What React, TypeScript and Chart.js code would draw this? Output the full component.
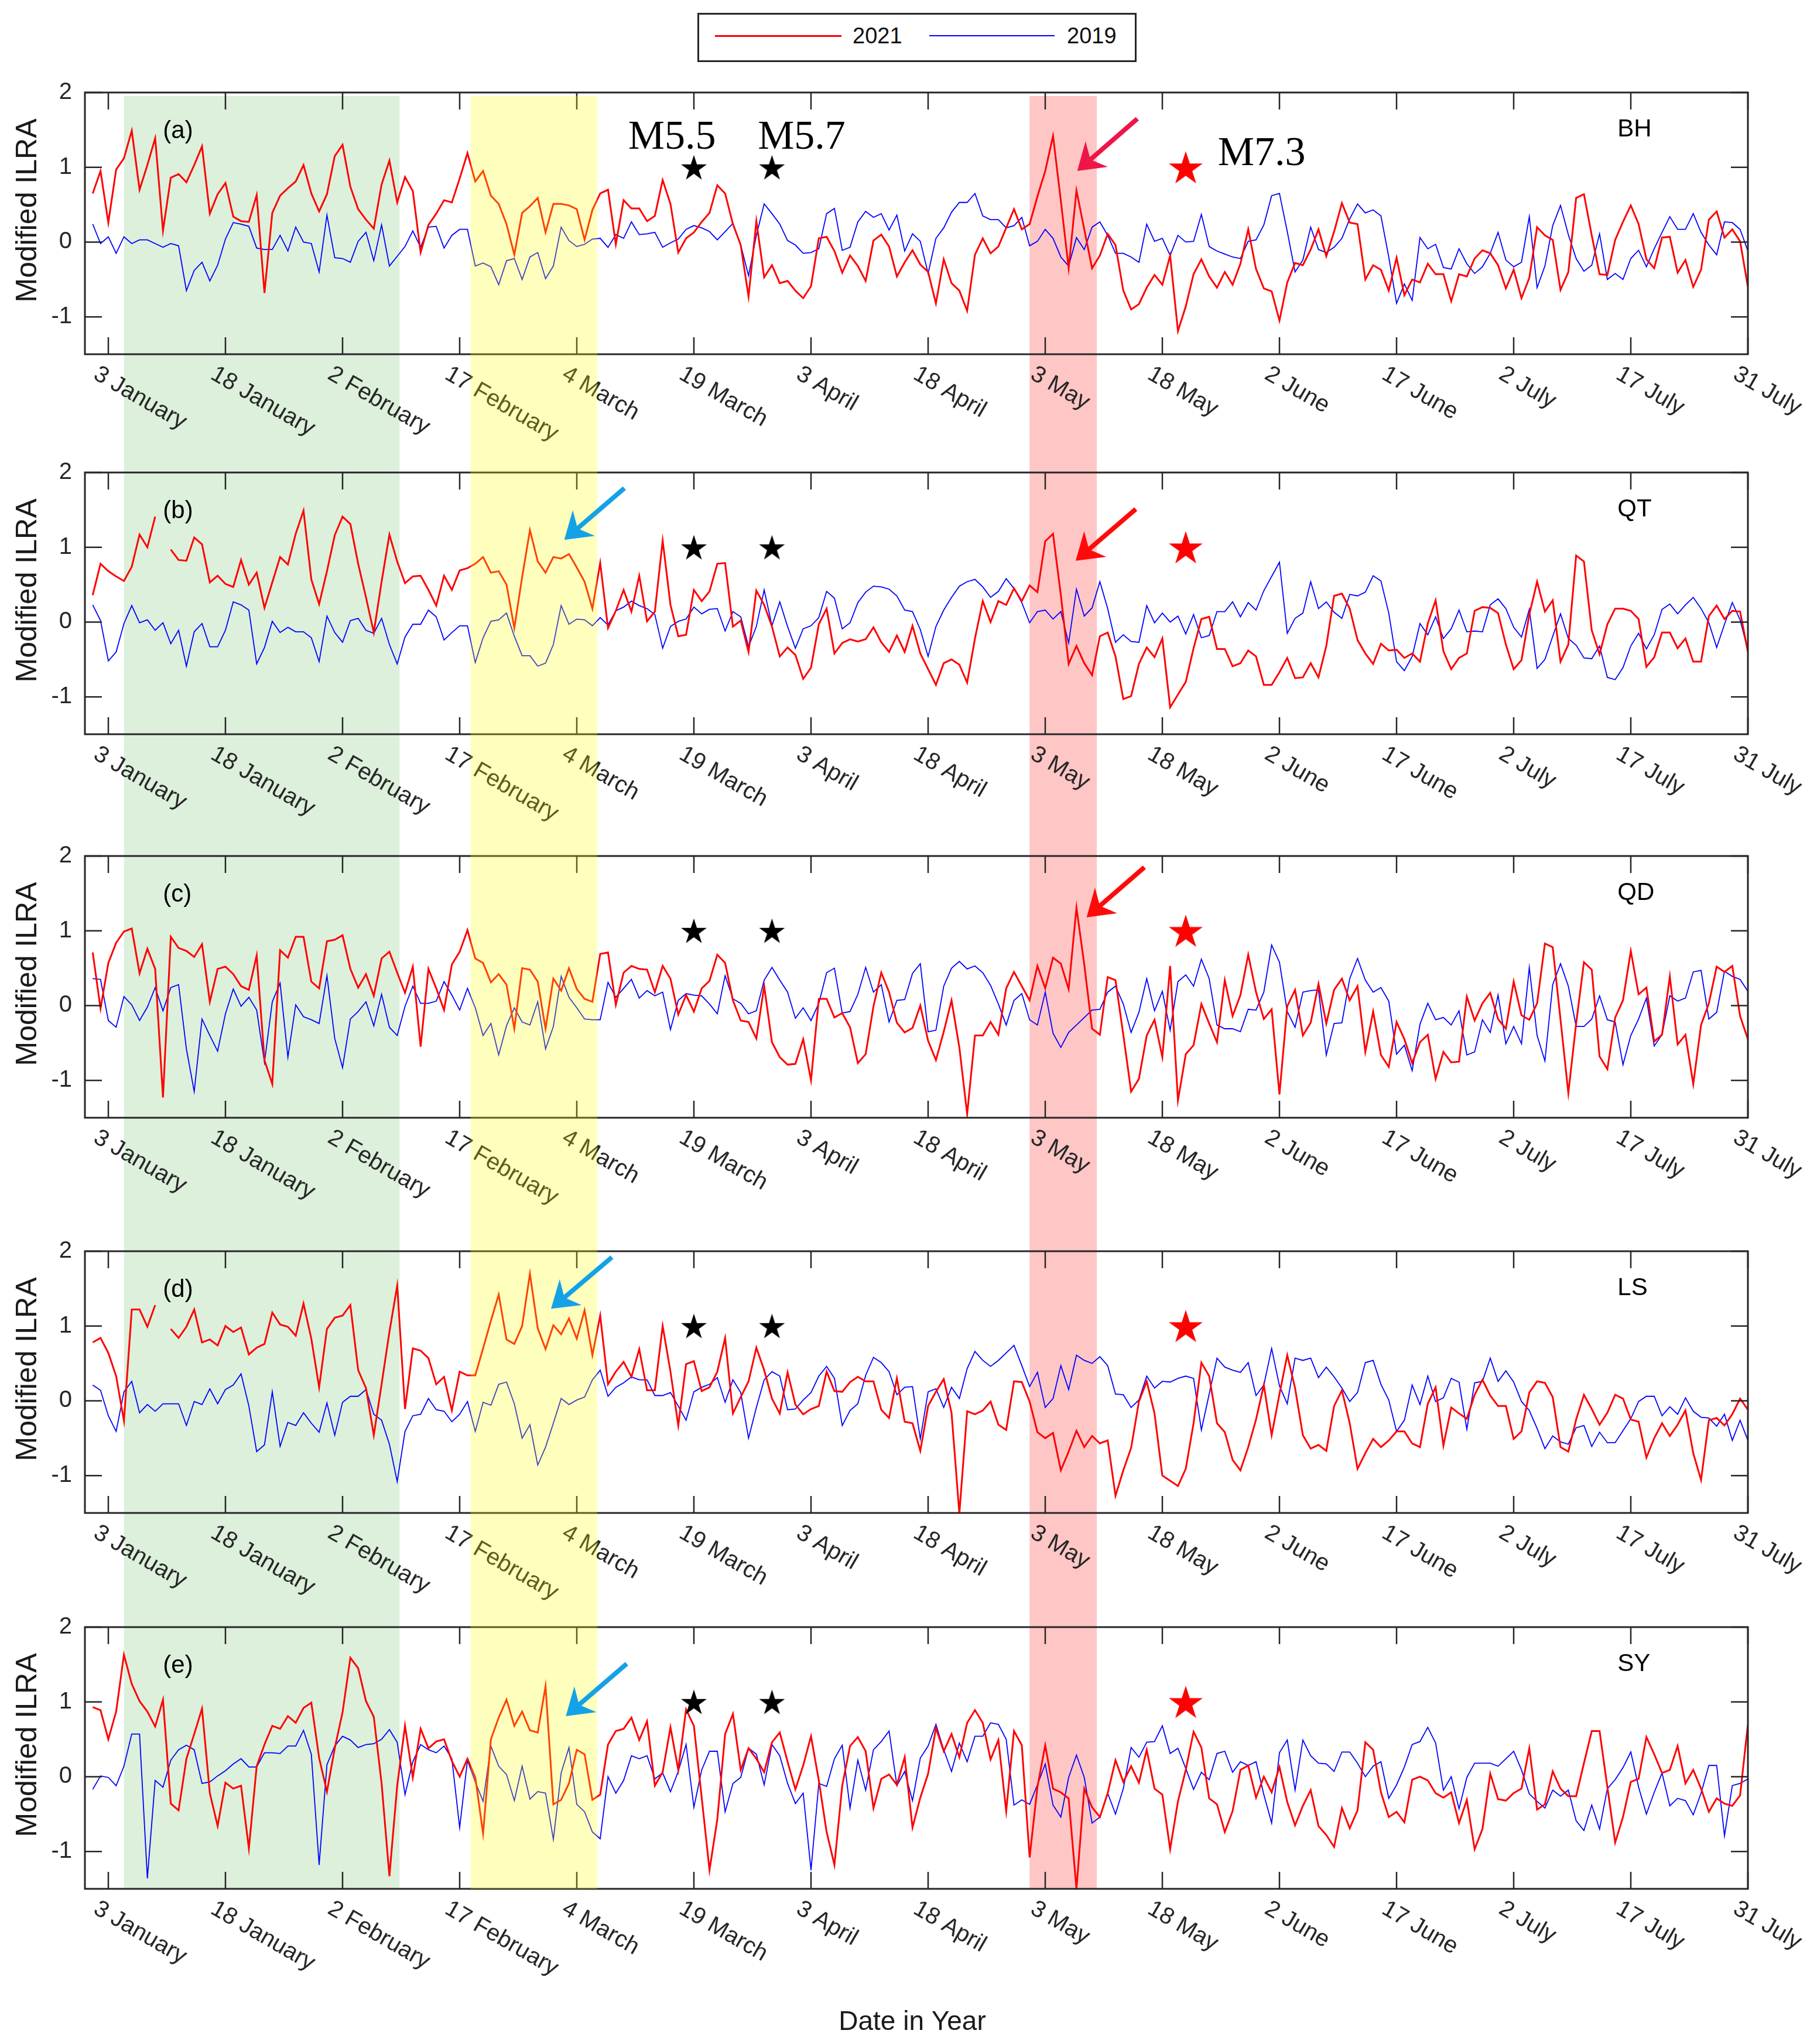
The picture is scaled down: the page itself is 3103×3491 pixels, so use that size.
import React, { useEffect, useRef } from "react";
import { Chart, registerables } from "chart.js";

Chart.register(...registerables);

// ---------- figure geometry ----------
const FIG_W = 3103;
const FIG_H = 3491;
const PLOT_RIGHT_PAD = 118;
const Y_AXIS_W = 145;
const PLOT_H = 447;
const PANEL_TOPS = [158, 807, 1462, 2137, 2779];
const CANVAS_TOPS = [0, 781, 1436, 2111, 2753, FIG_H];

// ---------- axes ----------
const X_MIN = 0;
const X_MAX = 213;
const Y_MIN = -1.5;
const Y_MAX = 2;
const Y_TICKS = [-1, 0, 1, 2];
const DAY_TICKS = [3, 18, 33, 48, 63, 78, 93, 108, 123, 138, 153, 168, 183, 198, 213];
const DAY_LABELS = [
  "3 January", "18 January", "2 February", "17 February", "4 March", "19 March", "3 April",
  "18 April", "3 May", "18 May", "2 June", "17 June", "2 July", "17 July", "31 July",
];
const Y_TITLE = "Modified ILRA";
const X_TITLE = "Date in Year";

// ---------- categories ----------
const STATIONS = ["BH", "QT", "QD", "LS", "SY"];
const PANEL_TAGS = ["(a)", "(b)", "(c)", "(d)", "(e)"];
const SERIES_NAMES = ["2021", "2019"];

// ---------- earthquakes ----------
const SMALL_QUAKE_DAYS = [78, 88];
const SMALL_QUAKE_LABELS = ["M5.5", "M5.7"];
const MAIN_QUAKE_DAY = [141];
const MAIN_QUAKE_LABEL = "M7.3";
const STAR_LEVEL = 1;

// ---------- series (daily values, day 1..213) ----------
const BH_2021 = [
  0.65, 0.95, 0.26, 0.97, 1.12, 1.49, 0.70, 1.03, 1.39, 0.15,
  0.86, 0.91, 0.80, 1.03, 1.28, 0.38, 0.64, 0.79, 0.34, 0.28,
  0.27, 0.63, -0.68, 0.39, 0.62, 0.72, 0.81, 1.03, 0.65, 0.41,
  0.64, 1.15, 1.30, 0.74, 0.44, 0.30, 0.18, 0.77, 1.09, 0.53,
  0.87, 0.68, -0.14, 0.23, 0.38, 0.56, 0.53, 0.85, 1.19, 0.81,
  0.95, 0.62, 0.51, 0.24, -0.17, 0.39, 0.48, 0.59, 0.13, 0.51,
  0.51, 0.49, 0.44, 0.03, 0.43, 0.65, 0.70, -0.03, 0.56, 0.45,
  0.45, 0.28, 0.35, 0.83, 0.51, -0.14, 0.05, 0.13, 0.27, 0.39,
  0.76, 0.65, 0.24, -0.04, -0.73, 0.28, -0.47, -0.31, -0.55, -0.52,
  -0.65, -0.75, -0.59, 0.05, 0.07, -0.12, -0.41, -0.18, -0.32, -0.52,
  0.02, 0.10, -0.06, -0.46, -0.27, -0.11, -0.30, -0.40, -0.82, -0.23,
  -0.55, -0.65, -0.92, -0.17, 0.05, -0.15, -0.06, 0.19, 0.44, 0.17,
  0.24, 0.61, 0.95, 1.42, 0.55, -0.35, 0.69, 0.17, -0.35, -0.18,
  0.11, -0.04, -0.65, -0.90, -0.83, -0.61, -0.44, -0.57, -0.18, -1.19,
  -0.86, -0.43, -0.23, -0.46, -0.61, -0.40, -0.57, -0.29, 0.17, -0.36,
  -0.62, -0.66, -1.05, -0.54, -0.28, -0.31, -0.10, 0.17, -0.19, 0.14,
  0.52, 0.26, 0.24, -0.50, -0.31, -0.37, -0.65, -0.21, -0.71, -0.50,
  -0.54, -0.29, -0.43, -0.43, -0.79, -0.43, -0.46, -0.22, -0.11, -0.15,
  -0.31, -0.62, -0.37, -0.75, -0.48, 0.20, 0.09, 0.03, -0.64, -0.40,
  0.59, 0.64, 0.09, -0.43, -0.44, 0.03, 0.27, 0.49, 0.24, -0.23,
  -0.35, 0.06, 0.07, -0.41, -0.24, -0.60, -0.37, 0.30, 0.41, 0.06,
  0.17, 0.01, -0.60,
];
const BH_2019 = [
  0.24, -0.02, 0.07, -0.15, 0.07, -0.02, 0.03, 0.03, -0.02, -0.07,
  -0.02, -0.05, -0.65, -0.38, -0.27, -0.52, -0.31, 0.04, 0.26, 0.24,
  0.21, -0.08, -0.10, -0.10, 0.09, -0.12, 0.20, 0.00, -0.02, -0.40,
  0.36, -0.21, -0.22, -0.27, 0.01, 0.13, -0.25, 0.23, -0.32, -0.19,
  -0.06, 0.15, -0.07, 0.20, 0.21, -0.08, 0.09, 0.17, 0.17, -0.32,
  -0.28, -0.33, -0.57, -0.25, -0.22, -0.50, -0.20, -0.14, -0.49, -0.32,
  0.20, 0.02, -0.06, -0.03, 0.04, 0.05, -0.07, 0.10, 0.05, 0.27,
  0.10, 0.11, 0.13, -0.07, -0.01, 0.04, 0.17, 0.22, 0.19, 0.14,
  0.03, 0.14, 0.25, -0.04, -0.45, 0.09, 0.51, 0.38, 0.24, 0.02,
  -0.04, -0.15, -0.14, -0.09, 0.38, 0.45, -0.11, -0.07, 0.27, 0.41,
  0.33, 0.38, 0.16, 0.36, -0.12, 0.11, 0.01, -0.42, 0.05, 0.19,
  0.40, 0.53, 0.53, 0.65, 0.35, 0.30, 0.30, 0.19, 0.22, 0.33,
  -0.05, 0.01, 0.17, 0.05, -0.20, -0.32, 0.06, -0.10, 0.20, 0.27,
  0.09, -0.15, -0.15, -0.20, -0.27, 0.24, 0.01, 0.05, -0.18, 0.09,
  0.00, 0.01, 0.37, -0.06, -0.12, -0.16, -0.20, -0.22, 0.01, 0.03,
  0.23, 0.62, 0.65, 0.14, -0.40, -0.24, 0.20, -0.10, -0.14, -0.07,
  0.05, 0.31, 0.51, 0.39, 0.43, 0.35, -0.20, -0.82, -0.56, -0.78,
  0.06, -0.09, -0.03, -0.34, -0.36, -0.09, -0.29, -0.42, -0.33, -0.15,
  0.13, -0.24, -0.33, -0.27, 0.34, -0.61, -0.32, 0.22, 0.49, 0.10,
  -0.22, -0.39, -0.31, 0.11, -0.50, -0.42, -0.50, -0.22, -0.11, -0.33,
  -0.09, 0.13, 0.34, 0.17, 0.17, 0.38, 0.13, -0.04, -0.17, 0.27,
  0.26, 0.17, -0.12,
];
const QT_2021 = [
  0.36, 0.78, 0.68, 0.61, 0.55, 0.74, 1.17, 1.00, 1.41, null,
  0.97, 0.83, 0.82, 1.13, 1.04, 0.53, 0.62, 0.51, 0.47, 0.83,
  0.50, 0.66, 0.19, 0.53, 0.87, 0.77, 1.18, 1.49, 0.57, 0.24,
  0.68, 1.16, 1.41, 1.31, 0.78, 0.33, -0.14, 0.54, 1.17, 0.81,
  0.52, 0.61, 0.62, 0.43, 0.22, 0.62, 0.43, 0.69, 0.72, 0.78,
  0.87, 0.66, 0.68, 0.50, -0.08, 0.60, 1.23, 0.81, 0.66, 0.87,
  0.85, 0.91, 0.73, 0.54, 0.18, 0.79, -0.08, 0.15, 0.43, 0.14,
  0.62, 0.01, 0.14, 1.09, 0.23, -0.19, -0.17, 0.43, 0.28, 0.41,
  0.78, 0.79, -0.06, 0.02, -0.40, 0.42, 0.23, -0.06, -0.46, -0.34,
  -0.44, -0.76, -0.61, -0.03, 0.18, -0.42, -0.28, -0.23, -0.26, -0.23,
  -0.07, -0.27, -0.40, -0.18, -0.40, -0.05, -0.42, -0.63, -0.84, -0.55,
  -0.50, -0.57, -0.81, -0.22, 0.28, 0.00, 0.28, 0.23, 0.45, 0.28,
  0.49, 0.40, 1.08, 1.18, 0.36, -0.56, -0.32, -0.55, -0.71, -0.19,
  -0.14, -0.46, -1.03, -0.99, -0.56, -0.34, -0.47, -0.22, -1.14, -0.97,
  -0.80, -0.35, 0.04, 0.07, -0.36, -0.36, -0.59, -0.55, -0.38, -0.46,
  -0.84, -0.84, -0.67, -0.48, -0.75, -0.74, -0.55, -0.74, -0.32, 0.35,
  0.38, 0.18, -0.24, -0.42, -0.56, -0.29, -0.38, -0.37, -0.48, -0.42,
  -0.53, -0.02, 0.29, -0.39, -0.63, -0.48, -0.42, 0.15, 0.20, 0.19,
  0.12, -0.30, -0.63, -0.51, 0.10, 0.54, 0.14, 0.29, -0.53, -0.30,
  0.89, 0.81, -0.11, -0.43, -0.03, 0.18, 0.18, 0.15, 0.04, -0.60,
  -0.47, -0.14, -0.14, -0.35, -0.22, -0.53, -0.53, 0.08, 0.22, 0.04,
  0.15, 0.14, -0.40,
];
const QT_2019 = [
  0.23, 0.02, -0.52, -0.40, -0.02, 0.22, -0.01, 0.03, -0.11, -0.01,
  -0.29, -0.11, -0.59, -0.13, -0.02, -0.33, -0.33, -0.11, 0.27, 0.23,
  0.16, -0.56, -0.34, 0.01, -0.14, -0.07, -0.13, -0.13, -0.21, -0.53,
  0.08, -0.14, -0.27, 0.02, 0.05, -0.11, -0.15, 0.05, -0.30, -0.56,
  -0.20, -0.03, -0.03, 0.16, 0.07, -0.24, -0.14, -0.05, -0.05, -0.54,
  -0.21, 0.01, 0.03, 0.12, -0.19, -0.45, -0.45, -0.59, -0.55, -0.30,
  0.22, -0.03, 0.04, 0.03, -0.05, 0.06, -0.04, 0.15, 0.20, 0.28,
  0.22, 0.18, 0.10, -0.35, -0.06, 0.01, 0.04, 0.20, 0.11, 0.17,
  0.18, -0.12, 0.14, 0.07, -0.33, -0.06, 0.43, -0.05, 0.27, -0.06,
  -0.35, -0.09, -0.05, 0.06, 0.41, 0.32, -0.09, -0.01, 0.26, 0.40,
  0.48, 0.47, 0.44, 0.35, 0.16, 0.14, -0.10, -0.46, -0.06, 0.16,
  0.33, 0.48, 0.54, 0.57, 0.47, 0.33, 0.41, 0.58, 0.45, 0.26,
  -0.01, 0.14, 0.16, 0.04, 0.14, -0.28, 0.44, 0.08, 0.19, 0.54,
  0.18, -0.27, -0.17, -0.26, -0.27, 0.22, -0.01, 0.12, 0.00, 0.08,
  -0.16, 0.10, -0.21, -0.18, 0.14, 0.14, 0.27, 0.07, 0.26, 0.16,
  0.42, 0.61, 0.80, -0.15, 0.05, 0.12, 0.54, 0.18, 0.27, 0.13,
  0.05, 0.37, 0.35, 0.40, 0.62, 0.55, 0.12, -0.53, -0.65, -0.46,
  -0.02, -0.17, 0.07, -0.22, -0.09, 0.16, -0.13, -0.12, -0.13, 0.23,
  0.31, 0.18, -0.07, -0.20, 0.17, -0.62, -0.50, -0.19, 0.11, -0.22,
  -0.31, -0.48, -0.49, -0.32, -0.74, -0.77, -0.61, -0.32, -0.15, -0.36,
  -0.17, 0.17, 0.24, 0.11, 0.23, 0.33, 0.18, -0.01, -0.34, -0.03,
  0.26, 0.03, -0.38,
];
const QD_2021 = [
  0.71, -0.04, 0.57, 0.84, 0.99, 1.03, 0.43, 0.76, 0.49, -1.23,
  0.92, 0.77, 0.73, 0.65, 0.82, 0.05, 0.49, 0.52, 0.42, 0.26,
  0.21, 0.67, -0.73, -1.05, 0.74, 0.64, 0.92, 0.92, 0.32, 0.23,
  0.86, 0.88, 0.94, 0.49, 0.24, 0.42, 0.13, 0.63, 0.72, 0.44,
  0.17, 0.52, -0.55, 0.49, 0.23, -0.06, 0.55, 0.72, 1.01, 0.63,
  0.57, 0.31, 0.42, 0.28, -0.31, 0.50, 0.48, 0.32, -0.31, 0.36,
  0.20, 0.50, 0.22, 0.09, 0.05, 0.69, 0.71, 0.01, 0.44, 0.53,
  0.49, 0.48, 0.18, 0.53, 0.36, -0.12, 0.14, -0.08, 0.23, 0.33,
  0.68, 0.57, 0.07, -0.20, -0.22, -0.44, 0.26, -0.49, -0.69, -0.79,
  -0.78, -0.45, -1.00, 0.09, 0.09, -0.16, -0.10, -0.29, -0.77, -0.65,
  -0.01, 0.44, 0.18, -0.23, -0.36, -0.30, 0.00, -0.47, -0.73, -0.35,
  0.07, -0.56, -1.45, -0.40, -0.40, -0.22, -0.39, 0.23, 0.45, 0.26,
  0.07, 0.53, 0.23, 0.64, 0.56, 0.22, 1.31, 0.55, -0.31, -0.39,
  0.38, 0.34, -0.39, -1.15, -0.98, -0.40, -0.19, -0.69, 0.53, -1.27,
  -0.65, -0.53, 0.02, -0.24, -0.49, 0.34, -0.14, 0.14, 0.68, 0.18,
  -0.18, -0.05, -1.19, -0.01, 0.21, -0.40, -0.23, 0.29, -0.24, 0.21,
  0.36, 0.07, 0.26, -0.62, -0.08, -0.66, -0.82, -0.22, -0.45, -0.77,
  -0.49, -0.39, -0.98, -0.62, -0.76, -0.75, 0.12, -0.20, 0.03, 0.17,
  -0.18, -0.31, 0.32, -0.13, -0.19, 0.03, 0.83, 0.78, -0.19, -1.17,
  -0.24, 0.58, 0.48, -0.68, -0.85, -0.16, 0.07, 0.73, 0.15, 0.24,
  -0.48, -0.39, 0.39, -0.52, -0.39, -1.05, -0.26, 0.03, 0.52, 0.45,
  0.53, -0.14, -0.45,
];
const QD_2019 = [
  0.36, 0.35, -0.20, -0.29, 0.12, 0.01, -0.20, -0.02, 0.24, -0.07,
  0.24, 0.28, -0.58, -1.15, -0.18, -0.40, -0.61, -0.11, 0.22, -0.01,
  0.11, -0.06, -0.76, 0.05, 0.30, -0.69, 0.01, -0.15, -0.19, -0.24,
  0.40, -0.44, -0.83, -0.18, -0.08, 0.05, -0.27, 0.15, -0.29, -0.40,
  -0.01, 0.26, 0.03, 0.03, 0.06, 0.32, 0.14, -0.06, 0.23, -0.03,
  -0.40, -0.24, -0.66, -0.27, -0.03, -0.22, -0.26, 0.05, -0.58, -0.28,
  0.39, 0.11, -0.03, -0.18, -0.19, -0.19, 0.31, 0.11, 0.23, 0.35,
  0.10, 0.20, 0.13, 0.18, -0.32, 0.07, 0.16, 0.14, 0.13, 0.02,
  -0.11, 0.40, 0.09, 0.03, -0.11, -0.07, 0.34, 0.51, 0.34, 0.18,
  -0.17, -0.03, -0.20, 0.03, 0.44, 0.50, -0.10, -0.08, 0.15, 0.51,
  0.18, 0.28, -0.22, 0.07, 0.08, 0.43, 0.56, -0.35, -0.33, 0.26,
  0.50, 0.59, 0.49, 0.53, 0.44, 0.27, 0.02, -0.26, 0.07, 0.16,
  -0.19, -0.26, 0.18, -0.37, -0.56, -0.36, -0.26, -0.16, -0.06, -0.05,
  0.18, 0.26, 0.02, -0.36, -0.09, 0.36, -0.07, 0.19, -0.33, 0.32,
  0.41, 0.26, 0.62, 0.36, -0.26, -0.31, -0.31, -0.35, -0.05, -0.06,
  0.18, 0.81, 0.58, -0.08, -0.29, 0.18, 0.20, 0.21, -0.66, -0.24,
  -0.23, 0.36, 0.63, 0.34, 0.18, 0.24, 0.06, -0.65, -0.53, -0.87,
  -0.25, 0.03, -0.19, -0.16, -0.26, -0.07, -0.66, -0.62, -0.19, -0.36,
  0.14, -0.51, -0.28, -0.51, 0.51, -0.40, -0.74, 0.28, 0.56, 0.26,
  -0.28, -0.28, -0.18, 0.13, -0.19, -0.22, -0.79, -0.40, -0.18, 0.10,
  -0.54, -0.39, 0.13, 0.06, 0.10, 0.45, 0.47, -0.18, -0.09, 0.46,
  0.39, 0.35, 0.19,
];
const LS_2021 = [
  0.78, 0.84, 0.64, 0.33, -0.27, 1.22, 1.22, 0.99, 1.28, null,
  0.96, 0.84, 0.99, 1.22, 0.78, 0.82, 0.74, 1.00, 0.92, 0.98,
  0.62, 0.71, 0.76, 1.18, 1.02, 0.99, 0.87, 1.30, 0.83, 0.18,
  0.96, 1.11, 1.14, 1.28, 0.41, 0.17, -0.46, 0.22, 0.92, 1.54,
  -0.11, 0.70, 0.67, 0.57, 0.22, 0.32, -0.13, 0.39, 0.34, 0.34,
  0.70, 1.07, 1.42, 0.82, 0.76, 1.00, 1.70, 0.97, 0.69, 1.01,
  0.89, 1.10, 0.83, 1.21, 0.61, 1.14, 0.22, 0.39, 0.52, 0.32,
  0.69, 0.14, 0.14, 1.00, 0.39, -0.33, 0.49, 0.53, 0.13, 0.18,
  0.39, 0.84, -0.17, 0.05, 0.26, 0.71, 0.41, 0.03, -0.17, 0.38,
  -0.05, -0.18, -0.11, -0.07, 0.39, 0.13, 0.12, 0.25, 0.32, 0.26,
  0.26, -0.12, -0.23, 0.30, -0.28, -0.30, -0.67, -0.07, 0.12, 0.29,
  -0.16, -1.51, -0.14, -0.18, -0.13, -0.01, -0.32, -0.39, 0.26, 0.25,
  -0.01, -0.42, -0.50, -0.43, -0.93, -0.68, -0.40, -0.62, -0.47, -0.57,
  -0.53, -1.27, -0.93, -0.63, -0.01, 0.26, -0.17, -1.00, -1.07, -1.14,
  -0.91, -0.30, 0.51, 0.33, -0.30, -0.42, -0.79, -0.93, -0.62, -0.25,
  0.21, -0.46, 0.09, 0.61, 0.17, -0.46, -0.64, -0.59, -0.67, -0.07,
  0.14, -0.30, -0.91, -0.70, -0.51, -0.62, -0.53, -0.41, -0.41, -0.57,
  -0.62, -0.04, 0.18, -0.60, -0.09, -0.17, -0.24, 0.08, 0.28, 0.07,
  -0.07, -0.07, -0.51, -0.41, 0.11, 0.26, 0.24, 0.05, -0.62, -0.68,
  -0.25, 0.08, -0.11, -0.32, -0.16, 0.08, 0.03, -0.25, -0.28, -0.76,
  -0.50, -0.30, -0.47, -0.32, -0.13, -0.70, -1.06, -0.26, -0.23, -0.33,
  -0.18, 0.03, -0.12,
];
const LS_2019 = [
  0.21, 0.14, -0.20, -0.41, 0.12, 0.26, -0.16, -0.05, -0.14, -0.04,
  -0.04, -0.04, -0.33, -0.01, -0.05, 0.16, -0.04, 0.15, 0.21, 0.36,
  -0.07, -0.68, -0.59, 0.12, -0.61, -0.29, -0.33, -0.16, -0.30, -0.42,
  -0.03, -0.46, -0.02, 0.06, 0.06, 0.15, -0.18, -0.26, -0.58, -1.08,
  -0.41, -0.20, -0.18, 0.03, -0.12, -0.14, -0.28, -0.18, -0.01, -0.41,
  -0.02, -0.06, 0.22, 0.25, -0.04, -0.50, -0.32, -0.86, -0.62, -0.30,
  0.03, -0.05, 0.01, 0.05, 0.28, 0.41, 0.06, 0.18, 0.24, 0.32,
  0.28, 0.28, 0.07, 0.07, 0.11, -0.07, -0.26, 0.12, 0.18, 0.22,
  0.31, -0.02, 0.28, 0.11, -0.50, -0.09, 0.28, 0.39, 0.33, -0.12,
  -0.11, 0.01, 0.11, 0.33, 0.46, 0.30, -0.33, -0.13, -0.04, 0.34,
  0.58, 0.51, 0.39, 0.08, 0.18, 0.19, -0.51, 0.12, 0.16, -0.09,
  0.18, 0.03, 0.43, 0.66, 0.54, 0.46, 0.54, 0.64, 0.74, 0.47,
  0.19, 0.38, -0.09, 0.03, 0.47, 0.15, 0.61, 0.54, 0.50, 0.59,
  0.47, 0.09, 0.08, -0.09, 0.01, 0.33, 0.17, 0.26, 0.25, 0.30,
  0.33, 0.30, -0.39, 0.09, 0.57, 0.45, 0.41, 0.38, 0.51, 0.07,
  0.21, 0.70, 0.20, -0.04, 0.57, 0.54, 0.57, 0.31, 0.45, 0.32,
  0.17, -0.01, 0.11, 0.51, 0.54, 0.22, 0.01, -0.41, -0.26, 0.21,
  -0.05, 0.33, -0.01, 0.04, 0.30, 0.25, -0.38, 0.24, 0.26, 0.57,
  0.26, 0.40, 0.25, -0.01, -0.13, -0.37, -0.64, -0.47, -0.55, -0.58,
  -0.36, -0.33, -0.61, -0.42, -0.56, -0.56, -0.40, -0.24, -0.01, 0.06,
  0.06, -0.20, -0.08, -0.18, 0.04, -0.14, -0.22, -0.23, -0.34, -0.18,
  -0.53, -0.26, -0.53,
];
const SY_2021 = [
  0.93, 0.89, 0.50, 0.87, 1.63, 1.24, 1.01, 0.87, 0.67, 1.03,
  -0.36, -0.45, 0.24, 0.57, 0.91, -0.22, -0.66, -0.08, -0.16, -0.12,
  -0.96, 0.14, 0.43, 0.68, 0.64, 0.81, 0.72, 0.92, 0.99, 0.25,
  -0.20, 0.38, 0.86, 1.59, 1.45, 1.01, 0.80, -0.09, -1.33, -0.12,
  0.68, -0.01, 0.64, 0.38, 0.47, 0.50, 0.21, 0.00, 0.24, -0.01,
  -0.76, 0.50, 0.79, 1.03, 0.68, 0.87, 0.62, 0.59, 1.21, -0.37,
  -0.31, -0.09, 0.36, 0.30, -0.31, -0.24, 0.43, 0.61, 0.64, 0.79,
  0.49, 0.74, -0.12, 0.06, 0.66, 0.09, 0.90, 0.68, -0.28, -1.25,
  -0.57, 0.57, 0.84, 0.09, 0.38, 0.24, 0.06, 0.46, 0.59, 0.20,
  -0.17, 0.15, 0.54, -0.05, -0.74, -1.18, -0.12, 0.41, 0.53, 0.34,
  -0.42, -0.03, 0.03, -0.11, 0.26, -0.68, -0.28, 0.04, 0.65, 0.34,
  0.57, 0.26, 0.72, 0.89, 0.72, 0.23, 0.49, -0.46, 0.61, 0.42,
  -1.08, -0.14, 0.42, -0.16, -0.21, -0.29, -1.50, -0.16, -0.41, -0.54,
  -0.22, 0.22, -0.07, 0.14, -0.08, 0.36, -0.16, -0.24, -0.97, -0.33,
  0.09, 0.60, 0.39, -0.29, -0.37, -0.74, -0.46, 0.09, 0.15, -0.28,
  0.00, -0.21, 0.13, -0.34, -0.65, -0.39, -0.18, -0.66, -0.78, -0.94,
  -0.42, -0.69, -0.45, 0.46, 0.36, -0.21, -0.54, -0.47, -0.61, -0.04,
  0.00, -0.05, -0.22, -0.28, -0.21, -0.62, -0.31, -0.97, -0.70, 0.04,
  -0.30, -0.32, -0.22, -0.16, 0.38, -0.44, -0.37, 0.07, -0.16, -0.26,
  -0.26, 0.18, 0.61, 0.61, -0.14, -0.88, -0.54, -0.07, -0.03, 0.53,
  0.30, 0.05, 0.09, 0.41, -0.09, 0.09, -0.16, -0.47, -0.29, -0.36,
  -0.39, -0.25, 0.70,
];
const SY_2019 = [
  -0.17, 0.01, -0.01, -0.12, 0.14, 0.57, 0.57, -1.36, -0.05, -0.14,
  0.22, 0.36, 0.42, 0.36, -0.09, -0.07, 0.01, 0.08, 0.17, 0.24,
  0.13, 0.13, 0.32, 0.32, 0.31, 0.41, 0.41, 0.62, 0.30, -1.18,
  0.16, 0.41, 0.54, 0.49, 0.39, 0.43, 0.44, 0.50, 0.63, 0.46,
  -0.24, 0.20, 0.43, 0.36, 0.32, 0.41, 0.24, -0.68, 0.22, -0.07,
  -0.33, 0.41, 0.14, 0.03, -0.32, 0.14, -0.30, -0.20, -0.22, -0.84,
  0.05, 0.39, -0.37, -0.47, -0.74, -0.83, 0.00, -0.22, -0.05, 0.28,
  0.24, 0.28, -0.03, 0.05, -0.20, 0.07, 0.43, -0.41, 0.09, 0.34,
  0.34, -0.47, -0.09, -0.01, 0.38, 0.30, -0.11, 0.43, 0.28, -0.09,
  -0.36, -0.22, -1.25, -0.09, -0.13, 0.24, 0.42, -0.42, 0.22, -0.18,
  0.36, 0.47, 0.61, -0.12, 0.07, -0.32, 0.25, 0.41, 0.70, 0.36,
  0.07, 0.45, 0.20, 0.54, 0.54, 0.72, 0.70, 0.50, -0.38, -0.31,
  -0.37, -0.11, 0.17, -0.38, -0.54, -0.01, 0.29, -0.01, -0.62, -0.54,
  -0.22, -0.50, -0.16, 0.39, 0.26, 0.46, 0.47, 0.68, 0.31, 0.38,
  0.11, -0.17, 0.06, -0.04, 0.31, 0.34, 0.06, 0.20, 0.15, 0.20,
  -0.24, -0.62, 0.32, 0.49, -0.18, 0.49, 0.28, 0.18, 0.17, 0.07,
  0.33, 0.33, 0.18, 0.00, 0.14, 0.20, -0.29, -0.11, 0.13, 0.43,
  0.47, 0.66, 0.45, -0.18, 0.00, -0.43, -0.01, 0.18, 0.18, 0.18,
  0.14, 0.24, 0.34, 0.09, -0.23, -0.33, -0.42, -0.18, -0.26, -0.18,
  -0.59, -0.72, -0.38, -0.70, -0.16, -0.04, 0.12, 0.33, -0.14, -0.50,
  -0.21, 0.05, -0.39, -0.29, -0.32, -0.51, -0.22, 0.15, 0.15, -0.79,
  -0.12, -0.09, -0.03,
];

const SERIES_2021 = [BH_2021, QT_2021, QD_2021, LS_2021, SY_2021];
const SERIES_2019 = [BH_2019, QT_2019, QD_2019, LS_2019, SY_2019];

// ---------- shaded periods (day ranges) ----------
const BAND_GREEN = [5, 40.3];
const BAND_RED = [121, 129.6];
const BAND_YELLOW = [49.4, 65.6];

// ---------- arrows [fromDay, fromVal, toDay, toVal] ----------
const ARROWS_RED = [
  [[134.8, 1.65, 127.1, 0.95]],
  [[134.6, 1.51, 126.9, 0.82]],
  [[135.7, 1.85, 128.3, 1.18]],
  [],
  [],
];
const ARROWS_BLUE = [
  [],
  [[69.1, 1.79, 61.4, 1.10]],
  [],
  [[67.5, 1.92, 59.7, 1.23]],
  [[69.4, 1.51, 61.6, 0.81]],
];

// ---------- styles ----------
const C_RED = "#ff0000";
const C_BLUE = "#0000ff";
const C_AXIS = "#262626";
const SANS = '"Liberation Sans", Arial, Helvetica, sans-serif';
const SERIF = '"Liberation Serif", "Times New Roman", serif';

function makeStar(width: number, color: string): HTMLCanvasElement {
  const c = document.createElement("canvas");
  c.width = width + 4;
  c.height = width + 4;
  const ctx = c.getContext("2d")!;
  const R = width / (2 * Math.sin((72 * Math.PI) / 180));
  const cx = c.width / 2;
  const cy = c.height / 2 + 0.0955 * R;
  ctx.fillStyle = color;
  ctx.beginPath();
  for (let k = 0; k < 10; k++) {
    const ang = (-90 + k * 36) * (Math.PI / 180);
    const r = k % 2 === 0 ? R : R * 0.382;
    const px = cx + r * Math.cos(ang);
    const py = cy + r * Math.sin(ang);
    if (k === 0) ctx.moveTo(px, py);
    else ctx.lineTo(px, py);
  }
  ctx.closePath();
  ctx.fill();
  return c;
}

function drawArrow(ctx: CanvasRenderingContext2D, x0: number, y0: number, x1: number, y1: number, color: string) {
  const dx = x1 - x0;
  const dy = y1 - y0;
  const L = Math.hypot(dx, dy);
  const ux = dx / L;
  const uy = dy / L;
  const px = -uy;
  const py = ux;
  const headLen = 44;
  const headW = 29;
  ctx.save();
  ctx.strokeStyle = color;
  ctx.fillStyle = color;
  ctx.lineWidth = 8;
  ctx.lineCap = "butt";
  ctx.beginPath();
  ctx.moveTo(x0, y0);
  ctx.lineTo(x1 - ux * headLen * 0.6, y1 - uy * headLen * 0.6);
  ctx.stroke();
  ctx.beginPath();
  ctx.moveTo(x1, y1);
  ctx.lineTo(x1 - ux * headLen + px * headW, y1 - uy * headLen + py * headW);
  ctx.lineTo(x1 - ux * headLen * 0.68, y1 - uy * headLen * 0.68);
  ctx.lineTo(x1 - ux * headLen - px * headW, y1 - uy * headLen - py * headW);
  ctx.closePath();
  ctx.fill();
  ctx.restore();
}

function panelPlugin(i: number) {
  return {
    id: "panelDeco" + i,
    beforeDatasetsDraw(chart: any) {
      const { ctx, chartArea: a, scales } = chart;
      const x = scales.x;
      const top = i === 0 ? a.top + 6 : 0;
      const bottom = i === 4 ? a.bottom : chart.height;
      ctx.save();
      const bands: [number[], string][] = [
        [BAND_GREEN, "#dcf0dc"],
        [BAND_RED, "#ffc6c6"],
      ];
      for (const [b, col] of bands) {
        const x0 = x.getPixelForValue(b[0]);
        const x1 = x.getPixelForValue(b[1]);
        ctx.fillStyle = col;
        ctx.fillRect(x0, top, x1 - x0, bottom - top);
      }
      ctx.restore();
    },
    afterDatasetsDraw(chart: any) {
      const { ctx, chartArea: a, scales } = chart;
      const x = scales.x;
      const y = scales.y;
      ctx.save();
      // frame
      ctx.strokeStyle = C_AXIS;
      ctx.lineWidth = 3;
      ctx.strokeRect(a.left, a.top, a.right - a.left, a.bottom - a.top);
      // inward ticks
      ctx.lineWidth = 2.5;
      ctx.beginPath();
      for (const d of DAY_TICKS) {
        const px = x.getPixelForValue(d);
        ctx.moveTo(px, a.bottom);
        ctx.lineTo(px, a.bottom - 29);
        ctx.moveTo(px, a.top);
        ctx.lineTo(px, a.top + 29);
      }
      for (const v of Y_TICKS) {
        const py = y.getPixelForValue(v);
        ctx.moveTo(a.left, py);
        ctx.lineTo(a.left + 29, py);
        ctx.moveTo(a.right, py);
        ctx.lineTo(a.right - 29, py);
      }
      ctx.stroke();

      // panel tag and station
      ctx.fillStyle = "#000";
      ctx.font = `42px ${SANS}`;
      ctx.textBaseline = "middle";
      ctx.textAlign = "left";
      ctx.fillText(PANEL_TAGS[i], x.getPixelForValue(10), y.getPixelForValue(1.48));
      ctx.fillText(STATIONS[i], x.getPixelForValue(196.3), y.getPixelForValue(1.5));

      // magnitude labels
      if (i === 0) {
        ctx.font = `70px ${SERIF}`;
        ctx.textBaseline = "alphabetic";
        ctx.textAlign = "center";
        ctx.fillText(SMALL_QUAKE_LABELS[0], x.getPixelForValue(75.2), y.getPixelForValue(1.25));
        ctx.fillText(SMALL_QUAKE_LABELS[1], x.getPixelForValue(91.8), y.getPixelForValue(1.25));
        ctx.textAlign = "left";
        ctx.fillText(MAIN_QUAKE_LABEL, x.getPixelForValue(145.1), y.getPixelForValue(1.03));
      }
      ctx.restore();
    },
    afterDraw(chart: any) {
      const { ctx, chartArea: a, scales } = chart;
      const x = scales.x;
      const y = scales.y;
      ctx.save();
      // rotated date labels
      ctx.fillStyle = C_AXIS;
      ctx.font = `40px ${SANS}`;
      ctx.textAlign = "left";
      ctx.textBaseline = "top";
      DAY_TICKS.forEach((d, k) => {
        const px = x.getPixelForValue(d);
        ctx.save();
        ctx.translate(px - 12, a.bottom + 14);
        ctx.rotate((30 * Math.PI) / 180);
        ctx.fillText(DAY_LABELS[k], 0, 0);
        ctx.restore();
      });
      // y title
      ctx.save();
      ctx.fillStyle = "#1a1a1a";
      ctx.font = `50px ${SANS}`;
      ctx.textAlign = "center";
      ctx.textBaseline = "alphabetic";
      ctx.translate(62, (a.top + a.bottom) / 2 - 22);
      ctx.rotate(-Math.PI / 2);
      ctx.fillText(Y_TITLE, 0, 0);
      ctx.restore();
      // x title on last panel
      if (i === 4) {
        ctx.fillStyle = "#1a1a1a";
        ctx.font = `46px ${SANS}`;
        ctx.textAlign = "center";
        ctx.textBaseline = "middle";
        ctx.fillText(X_TITLE, (a.left + a.right) / 2 - 7, a.bottom + 228);
      }
      // translucent yellow period on top
      const top = i === 0 ? a.top + 6 : 0;
      const bottom = i === 4 ? a.bottom : chart.height;
      const x0 = x.getPixelForValue(BAND_YELLOW[0]);
      const x1 = x.getPixelForValue(BAND_YELLOW[1]);
      ctx.fillStyle = "rgba(255,255,0,0.26)";
      ctx.fillRect(x0, top, x1 - x0, bottom - top);

      // arrows (in front of everything)
      for (const ar of ARROWS_RED[i]) {
        drawArrow(ctx, x.getPixelForValue(ar[0]), y.getPixelForValue(ar[1]), x.getPixelForValue(ar[2]), y.getPixelForValue(ar[3]), i === 0 ? "#ee1649" : "#ff0a0a");
      }
      for (const ar of ARROWS_BLUE[i]) {
        drawArrow(ctx, x.getPixelForValue(ar[0]), y.getPixelForValue(ar[1]), x.getPixelForValue(ar[2]), y.getPixelForValue(ar[3]), "#14a2e6");
      }
      ctx.restore();
    },
  };
}

const toPoints = (vals: (number | null)[]) => vals.map((v, k) => ({ x: k + 1, y: v }));

export default function App() {
  const refs = useRef<(HTMLCanvasElement | null)[]>([]);

  useEffect(() => {
    document.body.style.margin = "0";
    const starBlack = makeStar(44, "#000000");
    const starRed = makeStar(58, "#ff0000");
    const charts: Chart[] = [];
    for (let i = 0; i < 5; i++) {
      const canvas = refs.current[i];
      if (!canvas) continue;
      const cTop = CANVAS_TOPS[i];
      const cH = CANVAS_TOPS[i + 1] - cTop;
      const padTop = PANEL_TOPS[i] - cTop;
      const padBottom = cH - padTop - PLOT_H;
      const cfg: any = {
        type: "line",
        data: {
          datasets: [
            {
              label: "quakes",
              data: SMALL_QUAKE_DAYS.map((d) => ({ x: d, y: STAR_LEVEL })),
              showLine: false,
              pointStyle: starBlack,
              pointRadius: 10,
              borderColor: "#000",
              backgroundColor: "#000",
            },
            {
              label: "main quake",
              data: MAIN_QUAKE_DAY.map((d) => ({ x: d, y: STAR_LEVEL })),
              showLine: false,
              pointStyle: starRed,
              pointRadius: 10,
              borderColor: C_RED,
              backgroundColor: C_RED,
            },
            {
              label: SERIES_NAMES[0],
              data: toPoints(SERIES_2021[i]),
              borderColor: C_RED,
              backgroundColor: C_RED,
              borderWidth: 3,
              pointRadius: 0,
              tension: 0,
              spanGaps: false,
            },
            {
              label: SERIES_NAMES[1],
              data: toPoints(SERIES_2019[i]),
              borderColor: C_BLUE,
              backgroundColor: C_BLUE,
              borderWidth: 1.8,
              pointRadius: 0,
              tension: 0,
              spanGaps: false,
            },
          ],
        },
        options: {
          animation: false,
          responsive: false,
          maintainAspectRatio: false,
          devicePixelRatio: 1,
          events: [],
          layout: { padding: { top: padTop, bottom: padBottom, left: 0, right: PLOT_RIGHT_PAD } },
          plugins: { legend: { display: false }, tooltip: { enabled: false } },
          scales: {
            x: { type: "linear", min: X_MIN, max: X_MAX, display: false },
            y: {
              type: "linear",
              min: Y_MIN,
              max: Y_MAX,
              afterBuildTicks: (s: any) => {
                s.ticks = Y_TICKS.map((v) => ({ value: v }));
              },
              afterFit: (s: any) => {
                s.width = Y_AXIS_W;
                s.paddingTop = 0;
                s.paddingBottom = 0;
              },
              grid: { display: false, drawTicks: false },
              border: { display: false },
              ticks: {
                padding: 22,
                color: C_AXIS,
                font: { family: SANS, size: 40 },
              },
            },
          },
        },
        plugins: [panelPlugin(i)],
      };
      charts.push(new Chart(canvas, cfg));
    }
    return () => charts.forEach((c) => c.destroy());
  }, []);

  return (
    <div style={{ position: "relative", width: FIG_W, height: FIG_H, background: "#fff", overflow: "hidden" }}>
      {[0, 1, 2, 3, 4].map((i) => {
        const h = CANVAS_TOPS[i + 1] - CANVAS_TOPS[i];
        return (
          <canvas
            key={i}
            ref={(el) => {
              refs.current[i] = el;
            }}
            width={FIG_W}
            height={h}
            style={{ position: "absolute", left: 0, top: CANVAS_TOPS[i], width: FIG_W, height: h }}
          />
        );
      })}
      <div
        style={{
          position: "absolute",
          left: 1191,
          top: 22,
          width: 750,
          height: 84,
          border: `3px solid ${C_AXIS}`,
          boxSizing: "border-box",
          background: "#fff",
          fontFamily: SANS,
          fontSize: 38,
          color: "#111",
        }}
      >
        <div style={{ position: "absolute", left: 27, top: 35, width: 216, height: 3, background: C_RED }} />
        <div style={{ position: "absolute", left: 262, top: 13, height: 46, lineHeight: "46px" }}>{SERIES_NAMES[0]}</div>
        <div style={{ position: "absolute", left: 393, top: 35, width: 214, height: 2, background: C_BLUE }} />
        <div style={{ position: "absolute", left: 628, top: 13, height: 46, lineHeight: "46px" }}>{SERIES_NAMES[1]}</div>
      </div>
    </div>
  );
}
